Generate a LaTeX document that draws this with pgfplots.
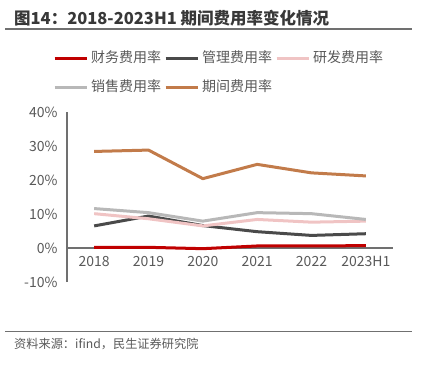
\documentclass[border=0pt]{standalone}
\usepackage{fontspec}
\setmainfont{Noto Sans CJK SC}
\usepackage{pgfplots}
\pgfplotsset{compat=1.18}
\definecolor{cfin}{HTML}{C00000}
\definecolor{cadm}{HTML}{4A4A4A}
\definecolor{crd}{HTML}{F0C4C4}
\definecolor{csale}{HTML}{B8B8B8}
\definecolor{cper}{HTML}{C27B4A}
\definecolor{ctxt}{HTML}{595959}
\definecolor{caxis}{HTML}{707070}
\begin{document}
\begin{tikzpicture}
\path[use as bounding box] (0,0) rectangle (426bp,-369bp);
\node[anchor=west, inner sep=0, font=\fontsize{16.5bp}{18bp}\selectfont\bfseries, text=ctxt!120] at (14bp,-18bp) {图14：2018-2023H1 期间费用率变化情况};
\draw[color=caxis, line width=1.5bp] (5bp,-29bp) -- (412bp,-29bp);
\draw[color=caxis, line width=1.5bp] (5bp,-331.5bp) -- (412bp,-331.5bp);
\node[anchor=west, inner sep=0, font=\fontsize{12.2bp}{14bp}\selectfont, text=ctxt] at (14bp,-343.5bp) {资料来源：ifind，民生证券研究院};
\begin{axis}[
  at={(67bp,-282bp)}, anchor=south west,
  scale only axis, width=326bp, height=170bp,
  xmin=-0.5, xmax=5.5, ymin=-10, ymax=40,
  axis x line=middle, axis y line=left,
  axis line style={draw=caxis, line width=1.2bp, -},
  major tick length=0,
  xtick={0,1,2,3,4,5},
  xticklabels={2018,2019,2020,2021,2022,2023H1},
  ytick={-10,0,10,20,30,40},
  yticklabel={\pgfmathprintnumber{\tick}\%},
  /pgf/number format/assume math mode=true,
  tick label style={font=\fontsize{14bp}{16bp}\selectfont, text=ctxt},
  xticklabel style={yshift=-5bp},
  yticklabel style={xshift=-6bp},
  clip=false,
  legend columns=3,
  legend style={draw=none, fill=none, font=\fontsize{14bp}{16bp}\selectfont, text=ctxt,
    at={(-17bp,232bp)}, anchor=north west, row sep=16bp,
    nodes={inner xsep=1bp, inner ysep=0, text height=10bp, text depth=3bp},
    /tikz/every odd column/.append style={column sep=2bp},
    /tikz/every even column/.append style={column sep=2bp}},
  legend image code/.code={\draw[#1] (0bp,0bp) -- (32bp,0bp);},
  every axis plot/.append style={line width=3bp, line join=round},
]
\addplot[cfin] coordinates {(0,0.2) (1,0.2) (2,-0.2) (3,0.6) (4,0.6) (5,0.7)};
\addlegendentry{财务费用率}
\addplot[cadm] coordinates {(0,6.5) (1,9.4) (2,6.6) (3,4.8) (4,3.7) (5,4.2)};
\addlegendentry{管理费用率}
\addplot[crd] coordinates {(0,10.1) (1,8.6) (2,6.5) (3,8.4) (4,7.6) (5,7.9)};
\addlegendentry{研发费用率}
\addplot[csale] coordinates {(0,11.6) (1,10.4) (2,7.9) (3,10.4) (4,10.1) (5,8.4)};
\addlegendentry{销售费用率}
\addplot[cper] coordinates {(0,28.4) (1,28.8) (2,20.4) (3,24.6) (4,22.1) (5,21.2)};
\addlegendentry{期间费用率}
\end{axis}
\end{tikzpicture}
\end{document}
